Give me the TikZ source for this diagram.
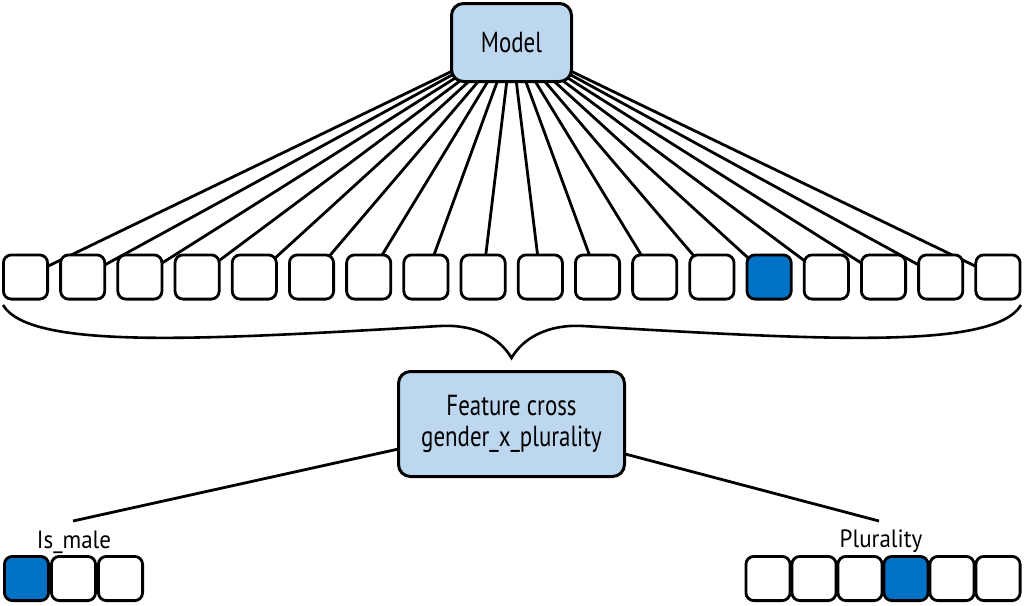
\documentclass[tikz,border=0pt]{standalone}
\usepackage{fontspec}
\setmainfont[FakeStretch=0.79]{PT Sans}
\newfontfamily\lblfont[FakeStretch=0.92]{PT Sans}
\usetikzlibrary{backgrounds}
\definecolor{lblue}{RGB}{189,215,238}
\definecolor{dblue}{RGB}{0,114,198}
\begin{document}
\begin{tikzpicture}[x=1pt,y=-1pt,
  cell/.style={draw=black, line width=2.8pt, rounded corners=8pt, minimum width=44.2pt, minimum height=44.2pt, inner sep=0pt, fill=white},
  hot/.style={fill=dblue},
  bigbox/.style={draw=black, line width=3pt, rounded corners=12pt, fill=lblue, font=\fontsize{29}{31}\selectfont, align=center, inner sep=0pt},
  wire/.style={line width=2.8pt},
  lbl/.style={font=\lblfont\fontsize{25}{28}\selectfont, inner sep=0pt, anchor=base}
]
\useasboundingbox (0,0) rectangle (1024,605);
% model
\node[bigbox, minimum width=120pt, minimum height=78pt] (model) at (511.5,42.5) {Model};
% top row
\foreach \i in {0,...,17}{
  \pgfmathsetmacro{\cx}{25.5+57.2*\i}
  \ifnum\i=13
    \node[cell, hot] (t\i) at (\cx,277) {};
  \else
    \node[cell] (t\i) at (\cx,277) {};
  \fi
}
\begin{pgfonlayer}{background}
\foreach \i in {0,...,17}{
  \draw[wire] (model.center) -- (t\i.center);
}
\end{pgfonlayer}
% brace
\draw[line width=2.6pt] (3,305) .. controls (30,350) and (200,340) .. (440,326)
  .. controls (475,324) and (500,338) .. (511.5,358)
  .. controls (523,338) and (548,324) .. (583,326)
  .. controls (824,340) and (994,350) .. (1021,305);
% feature cross
\node[bigbox, minimum width=226pt, minimum height=105pt] (fc) at (511.5,424) {Feature cross\\gender\_x\_plurality};
% labels
\node[lbl] (ismale) at (74,548) {Is\_male};
\node[lbl] (plur) at (881,547) {Plurality};
\coordinate (imtop) at (73,521);
\coordinate (pltop) at (879,521);
\begin{pgfonlayer}{background}
\draw[wire] (fc.center) -- (imtop);
\draw[wire] (fc.center) -- (pltop);
\end{pgfonlayer}
% bottom cells
\node[cell, hot] (a0) at (26.5,578.5) {};
\node[cell] (a1) at (73.5,578.5) {};
\node[cell] (a2) at (120.5,578.5) {};
\foreach \i in {0,...,5}{
  \pgfmathsetmacro{\cx}{768+46*\i}
  \ifnum\i=3
    \node[cell, hot] (b\i) at (\cx,578.5) {};
  \else
    \node[cell] (b\i) at (\cx,578.5) {};
  \fi
}
\end{tikzpicture}
\end{document}
